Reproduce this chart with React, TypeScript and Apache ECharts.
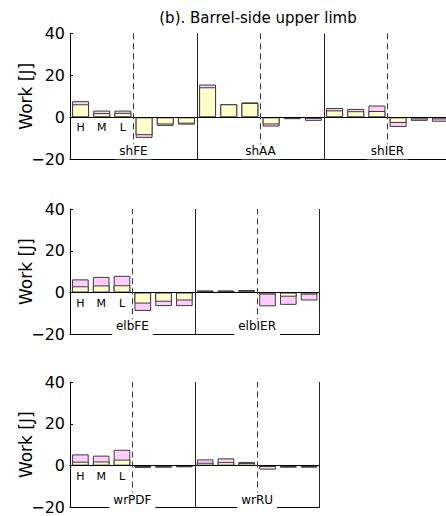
import React, { useEffect, useRef } from 'react';
import * as echarts from 'echarts';

// ---- data ----
const conditions = ['H', 'M', 'L'];

const groupsShoulder = ['shFE', 'shAA', 'shIER'];
const innerShoulder = [6.2, 2.0, 2.1, -8.5, -3.4, -3.0, 14.3, 6.2, 6.8, -3.4, -0.4, -0.7, 3.3, 2.9, 3.0, -2.7, -1.0, -1.0];
const totalShoulder = [7.7, 3.2, 3.2, -9.8, -4.1, -3.5, 15.6, 6.3, 7.1, -4.4, -0.9, -1.7, 4.4, 4.0, 5.6, -4.6, -1.7, -2.1];

const groupsElbow = ['elbFE', 'elbIER'];
const innerElbow = [3.0, 3.4, 3.5, -5.3, -4.4, -3.8, 0.8, 0.8, 0.9, -1.0, -2.0, -1.0];
const totalElbow = [6.3, 7.5, 8.0, -8.8, -6.5, -6.5, 1.0, 1.0, 1.2, -6.6, -5.9, -3.8];

const groupsWrist = ['wrPDF', 'wrRU'];
const innerWrist = [1.9, 2.0, 2.9, -0.7, -0.7, -0.5, 1.4, 1.7, 1.3, -0.6, -0.5, -0.5];
const totalWrist = [5.4, 4.8, 7.6, -1.1, -1.0, -0.8, 3.0, 3.5, 1.8, -1.9, -1.0, -1.0];

const yMin = -20;
const yMax = 40;
const yStep = 20;

const titleText = '(b). Barrel-side upper limb';
const yName = 'Work [J]';

// ---- layout ----
const FONT = 'DejaVu Sans';
const panels = [
  { groups: groupsShoulder, inner: innerShoulder, total: totalShoulder, left: 70, top: 33.3, width: 381, height: 126, cover: false },
  { groups: groupsElbow, inner: innerElbow, total: totalElbow, left: 70, top: 209, width: 249.5, height: 125.3, cover: true },
  { groups: groupsWrist, inner: innerWrist, total: totalWrist, left: 70, top: 382, width: 249.5, height: 125.5, cover: true },
];

function buildOption() {
  const grid: any[] = [];
  const xAxis: any[] = [];
  const yAxis: any[] = [];
  const series: any[] = [];

  panels.forEach((p, i) => {
    const n = p.groups.length * 6;
    const cats = [] as string[];
    p.groups.forEach((g) => {
      for (let k = 0; k < 6; k++) cats.push(g + '-' + k);
    });
    grid.push({
      left: p.left,
      top: p.top,
      width: p.width,
      height: p.height,
      containLabel: false,
      outerBoundsMode: 'none',
    });

    xAxis.push({
      type: 'category',
      gridIndex: i,
      data: cats,
      boundaryGap: true,
      axisLine: { onZero: true, lineStyle: { color: '#000', width: 1 } },
      axisTick: { show: false },
      splitLine: { show: false },
      axisLabel: { show: false },
      z: 3,
    });

    xAxis.push({
      type: 'value',
      gridIndex: i,
      min: 0,
      max: n,
      interval: 3,
      position: 'bottom',
      axisLine: { onZero: false, lineStyle: { color: '#000', width: 1 } },
      axisTick: { show: false },
      splitLine: { show: false },
      axisLabel: {
        inside: true,
        margin: p.cover ? -2 : 0,
        showMinLabel: false,
        showMaxLabel: false,
        formatter: (v: number) => (v % 6 === 3 ? '{g|' + p.groups[(v - 3) / 6] + '}' : ''),
        rich: {
          g: {
            fontSize: 12,
            fontFamily: FONT,
            color: '#000',
            backgroundColor: '#fff',
            padding: p.cover ? [1, 4, 4, 4] : [1, 4, 2, 4],
          },
        },
      },
      z: 10,
    });

    yAxis.push({
      type: 'value',
      gridIndex: i,
      min: yMin,
      max: yMax,
      interval: yStep,
      axisLine: { show: true, onZero: false, lineStyle: { color: '#000', width: 1 } },
      axisTick: { show: true, inside: true, length: 3, lineStyle: { color: '#000' } },
      splitLine: { show: false },
      axisLabel: {
        formatter: (v: number) => String(v).replace('-', '\u2212'),
        fontSize: 16,
        lineHeight: 12,
        color: '#000',
        fontFamily: FONT,
        margin: 5,
      },
      name: yName,
      nameLocation: 'middle',
      nameMoveOverlap: false,
      nameGap: 36,
      nameTextStyle: { fontSize: 17, color: '#000', fontFamily: FONT },
    });

    series.push({
      type: 'bar',
      xAxisIndex: 2 * i,
      yAxisIndex: i,
      data: p.total,
      barWidth: '80%',
      barGap: '-100%',
      itemStyle: { color: '#FFCCFF', borderColor: '#3c3c3c', borderWidth: 1 },
      label: {
        show: true,
        position: 'bottom',
        distance: 5,
        formatter: (prm: any) => (prm.dataIndex < 3 ? conditions[prm.dataIndex] : ''),
        fontSize: 11,
        fontFamily: FONT,
        color: '#000',
      },
      z: 2,
    });
    series.push({
      type: 'bar',
      xAxisIndex: 2 * i,
      yAxisIndex: i,
      data: p.inner,
      barWidth: '80%',
      barGap: '-100%',
      itemStyle: { color: '#FFFFCC', borderColor: '#3c3c3c', borderWidth: 1 },
      z: 2,
    });

    const marks: any[] = [];
    p.groups.forEach((_g, gi) => {
      marks.push({ xAxis: gi * 6 + 3, lineStyle: { type: [6, 4], color: '#333', width: 1 } });
      marks.push({ xAxis: gi * 6 + 6, lineStyle: { type: 'solid', color: '#222', width: 1 } });
    });
    series.push({
      type: 'line',
      xAxisIndex: 2 * i + 1,
      yAxisIndex: i,
      data: [],
      markLine: {
        silent: true,
        symbol: ['none', 'none'],
        label: { show: false },
        data: marks,
      },
      z: 4,
    });
  });

  return {
    animation: false,
    backgroundColor: '#fff',
    graphic: [
      {
        type: 'text',
        x: 258,
        y: 18,
        style: {
          text: titleText,
          textAlign: 'center',
          textVerticalAlign: 'middle',
          fontSize: 15,
          fontFamily: FONT,
          fill: '#000',
        },
      },
    ],
    grid,
    xAxis,
    yAxis,
    series,
  };
}

export default function App() {
  const ref = useRef<HTMLDivElement>(null);
  useEffect(() => {
    if (!ref.current) return;
    const chart = echarts.init(ref.current, undefined, { renderer: 'svg' });
    chart.setOption(buildOption() as any);
    return () => chart.dispose();
  }, []);
  return (
    <div
      ref={ref}
      style={{ position: 'fixed', left: 0, top: 0, width: 446, height: 516, background: '#fff' }}
    />
  );
}
